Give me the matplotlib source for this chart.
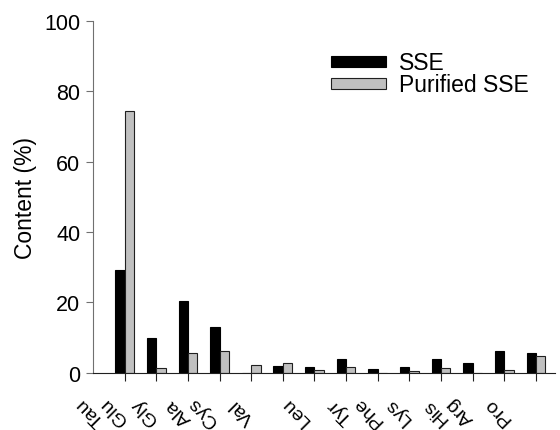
import numpy as np
import matplotlib.pyplot as plt

plt.rcParams['font.family'] = ['Liberation Sans', 'DejaVu Sans']

# amino acid content (%)
labels = ['Tau', 'Glu', 'Gly', 'Ala', 'Cys', 'Val', 'Leu', 'Tyr', 'Phe',
          'Lys', 'His', 'Arg', 'Pro']
sse = [29.3, 10.0, 20.5, 12.9, 0.0, 2.0, 1.5, 3.9, 1.1, 1.5, 4.0, 2.7, 6.2, 5.7]
purified = [74.3, 1.2, 5.7, 6.1, 2.2, 2.8, 0.8, 1.5, 0.0, 0.5, 1.2, 0.0, 0.9, 4.8]

# where the (misplaced) labels sit along the axis, in group units
label_pos = [-1.08, -0.32, 0.63, 1.7, 2.47, 3.73, 5.4, 6.8, 7.7, 8.64, 9.8,
             10.6, 11.77]

x = np.arange(len(sse))
w = 0.295

fig = plt.figure(figsize=(5.6, 4.31), dpi=100)
ax = fig.add_axes([0.166, 0.133, 0.825, 0.816])

ax.bar(x - w / 2, sse, w, color='black', edgecolor='black', lw=0.8,
       label='SSE')
ax.bar(x + w / 2, purified, w, color='#c0c0c0', edgecolor='#202020', lw=0.8,
       label='Purified SSE')

ax.set_xlim(-1.0, 13.6)
ax.set_ylim(0, 100)
ax.set_yticks(range(0, 101, 20))
ax.set_xticks(x)
ax.set_xticklabels([])

for s in ['top', 'right']:
    ax.spines[s].set_visible(False)
ax.spines['left'].set_color('#707070')
ax.spines['bottom'].set_color('#202020')
ax.tick_params(axis='y', direction='out', length=5, color='#707070',
               labelsize=15.5, pad=4)
ax.tick_params(axis='x', direction='out', length=6, color='#202020')
ax.set_ylabel('Content (%)', fontsize=16.5, labelpad=5)

trans = ax.get_xaxis_transform()
for lab, p in zip(labels, label_pos):
    ax.text(p, -0.108, lab, transform=trans, rotation=135, fontsize=14,
            ha='center', va='center', rotation_mode='anchor', clip_on=False)

ax.legend(loc='upper left', bbox_to_anchor=(0.571, 0.905),
          bbox_transform=fig.transFigure, frameon=False, fontsize=16.5,
          handlelength=2.4, handleheight=0.36, handletextpad=0.55,
          borderpad=0, labelspacing=-0.05)

fig.savefig('out.png', dpi=100)
